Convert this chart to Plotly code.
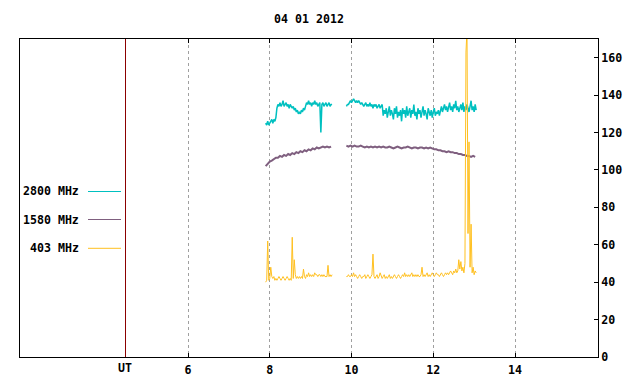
import numpy as np
import plotly.graph_objects as go

title_text = "04 01 2012"
x_tick_vals = [6, 8, 10, 12, 14]
x_tick_text = ["6", "8", "10", "12", "14"]
y_tick_vals = [0, 20, 40, 60, 80, 100, 120, 140, 160]
ut_hour = 4.46
ut_label = "UT"

series_names = ["2800 MHz", "1580 MHz", "403 MHz"]
series_colors = ["#00c0c0", "#7f5f7f", "#ffc020"]

# sampling: segment start hours and step (hours)
seg1_start = 7.900
seg2_start = 9.875
fine_step = 0.025
coarse_step = 0.05

# 2800 MHz (teal)
f2800_seg1 = [
    125, 124, 126, 124, 125, 126, 127, 125, 127, 126,
    128, 133, 135, 134, 136, 134, 135, 137, 134, 135,
    136, 134, 135, 133, 135, 134, 133, 134, 132, 133,
    131, 132, 130, 131, 130, 132, 131, 133, 132, 134,
    136, 135, 137, 135, 136, 134, 136, 135, 137, 135,
    136, 134, 135, 136, 120, 135, 136, 134, 135, 136,
    134, 135, 136, 134, 135, 135,
]
f2800_seg2 = [
    134, 135, 135, 136,
    137, 136, 137, 138, 137, 136, 137, 136, 137, 136, 135, 136,
    135, 134, 135, 136, 134, 135, 134, 136, 134, 135,
    133, 135, 134, 135, 133, 134, 135, 133, 134, 135,
    129, 132, 130, 133, 128, 131, 134, 129, 132, 130,
    127, 133, 130, 134, 128, 131, 129, 132, 126, 133,
    130, 132, 128, 134, 129, 131, 133, 128, 132, 130,
    135, 129, 131, 127, 133, 130, 132, 128, 131, 134,
    129, 132, 130, 127, 133, 131, 129, 132, 128, 131,
    133, 129, 131, 130, 132, 129,
    132, 134, 131, 133, 135, 132, 134, 131, 133, 136,
    132, 134, 131, 135, 133, 137, 132, 134, 131, 133,
    135, 132, 136, 131, 134, 132, 135, 133, 131, 134,
    137, 132, 134, 131, 135, 132,
]

# 1580 MHz (purple), coarse sampling
f1580_seg1 = [
    102.0, 103.5, 104.5, 105.0, 106.0, 106.5, 106.5, 107.5, 107.0, 108.0,
    107.5, 108.5, 108.0, 109.0, 108.5, 109.5, 109.0, 110.0, 109.5, 110.5,
    110.0, 111.0, 110.5, 111.5, 111.0, 112.0, 111.5, 112.0, 112.5, 112.0,
    112.5, 112.0, 112.5,
]
f1580_seg2 = [
    113.0, 112.5, 113.0, 112.5, 113.0, 112.5, 112.5, 113.0, 112.5, 112.0,
    112.5, 112.0, 112.5, 112.0, 112.5, 112.0, 112.5, 112.0, 112.5, 112.0,
    112.0, 112.5, 112.0, 111.5, 112.0, 112.5, 112.0, 111.5, 112.0, 112.0,
    112.5, 112.0, 111.5, 112.0, 112.0, 111.5, 112.0, 112.0, 111.5, 112.0,
    111.5, 112.0, 111.5, 111.0, 111.0, 110.5, 110.5, 110.0, 110.0, 109.5,
    110.0, 109.5, 109.5, 109.0, 109.0, 108.5, 108.5, 108.0, 108.0, 107.5,
    107.5, 107.0, 107.5, 107.0,
]

# 403 MHz (orange)
f403_seg1 = [
    40, 41, 62, 41, 42, 48, 43, 42, 43, 41,
    42, 41, 42, 43, 42, 41, 42, 43, 42, 41,
    42, 43, 42, 41, 42, 41, 64, 42, 52, 44,
    42, 43, 42, 43, 42, 43, 42, 47, 43, 42,
    44, 43, 45, 43, 44, 43, 44, 43, 45, 44,
    44, 43, 44, 44, 43, 44, 43, 44, 43, 43,
    43, 49, 43, 44, 43, 44,
]
f403_seg2 = [
    43, 43, 44, 43, 43, 44, 43, 45, 43, 44,
    43, 42, 43, 44, 43, 42, 43, 43, 44, 42,
    43, 44, 43, 42, 43, 44, 55, 43, 42, 43,
    44, 42, 43, 45, 43, 42, 43, 44, 42, 43,
    42, 43, 44, 42, 43, 42, 43, 44, 43, 42,
    43, 44, 43, 42, 43, 44, 43, 45, 43, 44,
    43, 44, 43, 44, 45, 43, 44, 43, 44, 43,
    44, 43, 43, 44, 48, 43, 44, 43, 44, 45,
    43, 44, 43, 44, 45, 44, 43, 44, 45, 44,
    44, 43, 44, 45, 44, 43, 44, 45, 44, 45,
    44, 45, 46, 45, 44, 46, 45, 47, 45, 46,
    52, 47, 51, 46, 48, 45, 50,
    163, 175, 66, 115, 48, 71, 45, 48, 44, 46, 45,
]


def times(start, step, n):
    return list(start + step * np.arange(n))


def join(start1, v1, start2, v2, step):
    t = times(start1, step, len(v1)) + [None] + times(start2, step, len(v2))
    v = list(v1) + [None] + list(v2)
    return t, v


fig = go.Figure()

# invisible trace so that the UT overlay axis is drawn
fig.add_trace(go.Scatter(x=[ut_hour], y=[0], xaxis="x2", mode="markers",
                         marker=dict(opacity=0), showlegend=False,
                         hoverinfo="skip"))

data = [
    join(seg1_start, f2800_seg1, seg2_start, f2800_seg2, fine_step),
    join(seg1_start, f1580_seg1, seg2_start, f1580_seg2, coarse_step),
    join(seg1_start, f403_seg1, seg2_start, f403_seg2, fine_step),
]
widths = [1.5, 2, 1]
# draw purple, teal, then orange on top
for idx in [1, 0, 2]:
    t, v = data[idx]
    fig.add_trace(go.Scatter(
        x=t, y=v, mode="lines", name=series_names[idx],
        line=dict(color=series_colors[idx], width=widths[idx]),
        connectgaps=False, showlegend=False, hoverinfo="skip",
    ))

font = dict(family="DejaVu Sans Mono", size=11.6, color="black", weight="bold")

# page has an 8px body margin: the figure is sized to fit the window
W, H = 632, 376
off = 8
L, R, T, B = 20, 598, 39, 357  # plot box in window pixels

x_range = [1.89, 16.03]

fig.update_layout(
    width=W, height=H,
    margin=dict(l=L - off, r=(W + off) - R, t=T - off, b=(H + off) - B,
                autoexpand=False),
    paper_bgcolor="white", plot_bgcolor="white",
    font=font,
    title=dict(text=title_text, x=((L + R) / 2 - off) / W, xanchor="center",
               y=1 - (18.5 - off) / H, yanchor="middle", font=font),
    showlegend=False,
    xaxis=dict(
        range=x_range, tickvals=x_tick_vals, ticktext=x_tick_text,
        ticks="inside", ticklen=4, tickcolor="black", tickwidth=1,
        showline=True, linecolor="black", linewidth=1, mirror="ticks",
        showgrid=True, gridcolor="#a0a0a0", griddash="dot", gridwidth=1,
        zeroline=False, tickfont=font, ticklabelstandoff=2, automargin=False,
    ),
    xaxis2=dict(
        range=x_range, overlaying="x", side="bottom", anchor="y",
        tickvals=[ut_hour], ticktext=[ut_label], ticks="",
        showgrid=True, gridcolor="#8b0000", gridwidth=1, griddash="solid",
        showline=False, zeroline=False, tickfont=font, ticklabelstandoff=2,
        automargin=False,
    ),
    yaxis=dict(
        range=[0, 170], tickvals=y_tick_vals, side="right",
        ticks="inside", ticklen=4, tickcolor="black",
        showline=True, linecolor="black", linewidth=1, mirror=True,
        showgrid=False, zeroline=False, tickfont=font, automargin=False,
    ),
)

# legend on the left (text then line sample)
pw, ph = R - L, B - T
legend_py = [191.5, 219.5, 248.3]
for name, color, py in zip(series_names, series_colors, legend_py):
    ly = (B - py) / ph
    fig.add_annotation(text=name, xref="paper", yref="paper", x=(81 - L) / pw,
                       y=ly, xanchor="right", yanchor="middle", showarrow=False,
                       font=font)
    fig.add_shape(type="line", xref="paper", yref="paper",
                  x0=(88 - L) / pw, x1=(121 - L) / pw, y0=ly, y1=ly,
                  line=dict(color=color, width=1))

fig.write_html("out.html")
